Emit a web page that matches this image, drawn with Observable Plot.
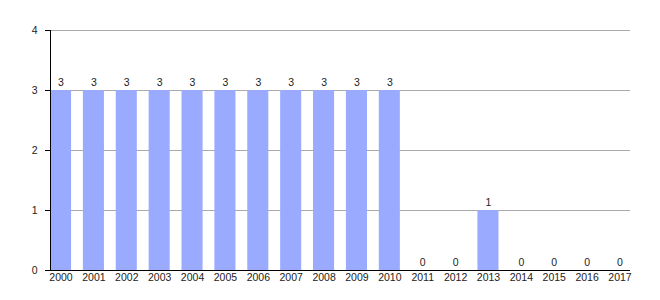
<!DOCTYPE html>
<html>
<head>
<meta charset="utf-8">
<script src="https://cdn.jsdelivr.net/npm/d3@7"></script>
<script src="https://cdn.jsdelivr.net/npm/@observablehq/plot@0.6"></script>
<style>
  html, body { margin: 0; padding: 0; background: #fff; }
  #chart svg { display: block; }
</style>
</head>
<body>
<div id="chart"></div>
<script>
const years = ["2000","2001","2002","2003","2004","2005","2006","2007","2008","2009","2010","2011","2012","2013","2014","2015","2016","2017"];
const counts = [3,3,3,3,3,3,3,3,3,3,3,0,0,1,0,0,0,0];
const yTicks = [0,1,2,3,4];

const data = years.map((year, i) => ({year, count: counts[i]}));

const chart = Plot.plot({
  width: 660,
  height: 300,
  marginLeft: 50,
  marginRight: 30,
  marginTop: 30,
  marginBottom: 30,
  style: {fontFamily: "'Liberation Sans', Arial, sans-serif", fontSize: "10.5px", color: "#222", background: "#fff"},
  x: {domain: years, paddingInner: 0.36, paddingOuter: 0, round: false, label: null},
  y: {domain: [0, 4], label: null},
  marks: [
    Plot.gridY(yTicks.slice(1), {stroke: "#aaa", strokeOpacity: 1}),
    Plot.barY(data, {x: "year", y: "count", fill: "#99aaff"}),
    Plot.text(data, {x: "year", y: "count", text: d => String(d.count), dy: -8, fill: "#222"}),
    Plot.ruleY([0], {stroke: "#000"}),
    Plot.frame({anchor: "left", stroke: "#000"}),
    Plot.axisY(yTicks, {tickSize: 5, tickPadding: 8, tickFormat: "d", label: null, stroke: "#000"}),
    Plot.axisX({tickSize: 0, tickPadding: 3, label: null})
  ]
});
document.getElementById("chart").appendChild(chart);
</script>
</body>
</html>
